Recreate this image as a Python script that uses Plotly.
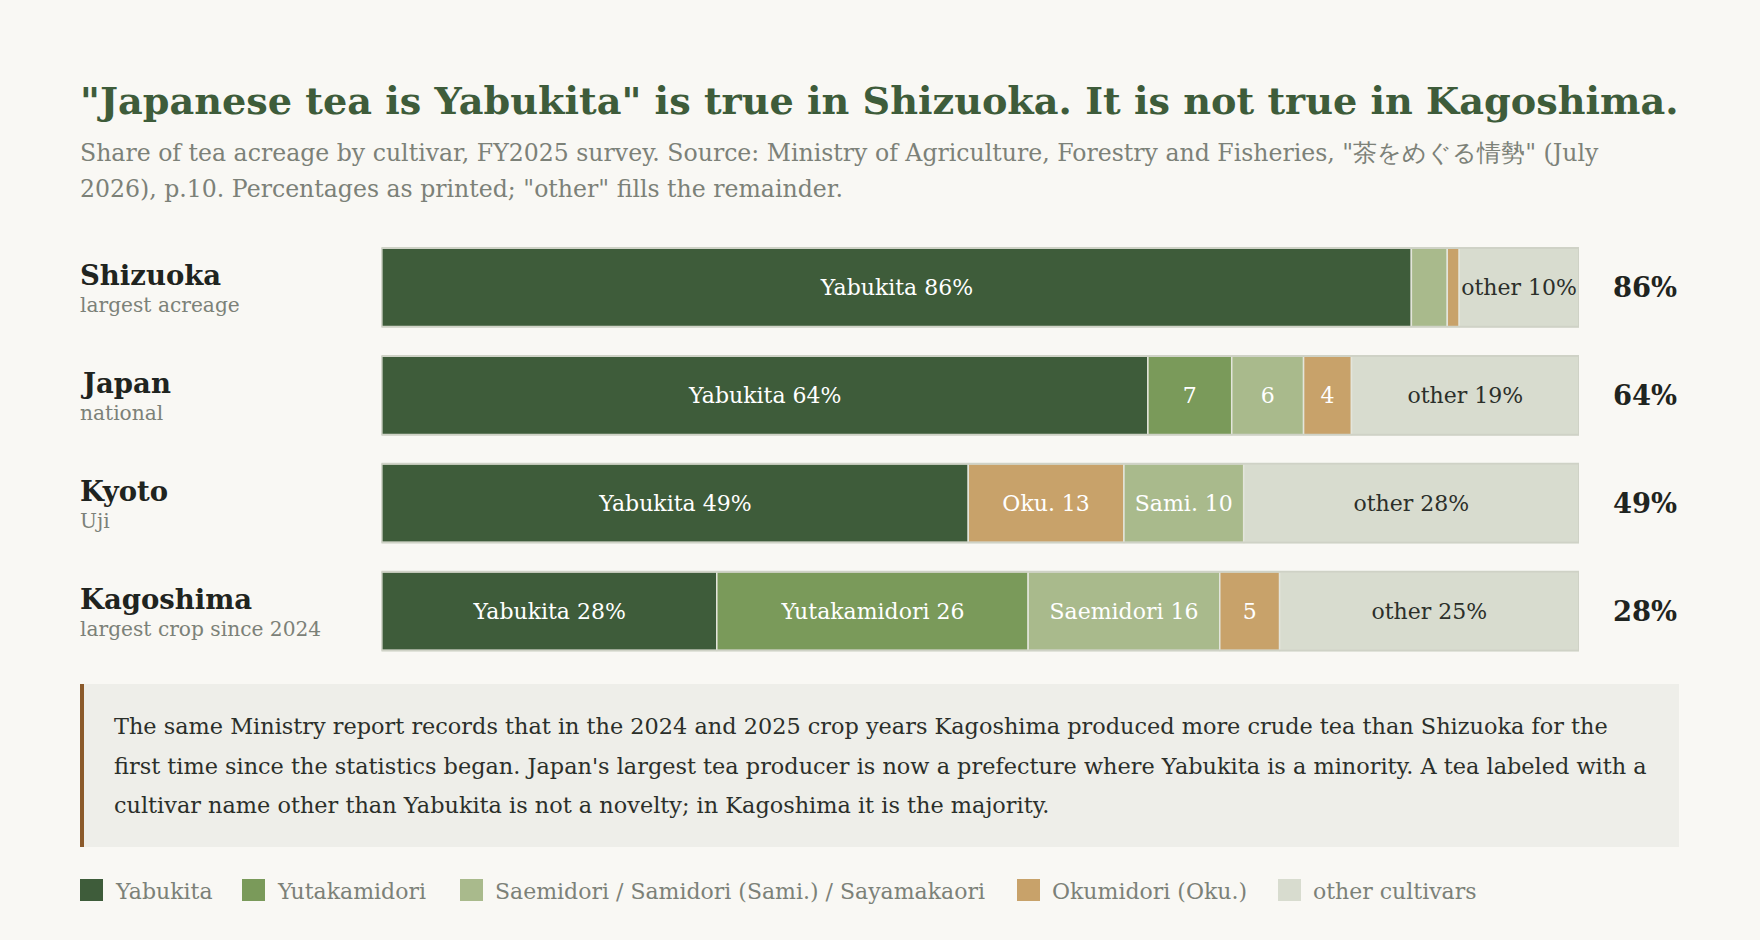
import plotly.graph_objects as go

# ---------------- data ----------------
regions = ["Shizuoka", "Japan", "Kyoto", "Kagoshima"]
region_notes = ["largest acreage", "national", "Uji", "largest crop since 2024"]
yabukita_share = [86, 64, 49, 28]

shizuoka_cultivars = ["Yabukita", "Saemidori", "Okumidori", "other"]
shizuoka_values = [86, 3, 1, 10]
shizuoka_labels = ["Yabukita 86%", "", "", "other 10%"]

japan_cultivars = ["Yabukita", "Yutakamidori", "Saemidori", "Okumidori", "other"]
japan_values = [64, 7, 6, 4, 19]
japan_labels = ["Yabukita 64%", "7", "6", "4", "other 19%"]

kyoto_cultivars = ["Yabukita", "Okumidori", "Saemidori", "other"]
kyoto_values = [49, 13, 10, 28]
kyoto_labels = ["Yabukita 49%", "Oku. 13", "Sami. 10", "other 28%"]

kagoshima_cultivars = ["Yabukita", "Yutakamidori", "Saemidori", "Okumidori", "other"]
kagoshima_values = [28, 26, 16, 5, 25]
kagoshima_labels = ["Yabukita 28%", "Yutakamidori 26", "Saemidori 16", "5", "other 25%"]

legend_keys = ["Yabukita", "Yutakamidori", "Saemidori", "Okumidori", "other"]
legend_names = ["Yabukita", "Yutakamidori", "Saemidori / Samidori (Sami.) / Sayamakaori",
                "Okumidori (Oku.)", "other cultivars"]

title_text = "\"Japanese tea is Yabukita\" is true in Shizuoka. It is not true in Kagoshima."
subtitle_lines = [
    "Share of tea acreage by cultivar, FY2025 survey. Source: Ministry of Agriculture, Forestry and Fisheries, \"茶をめぐる情勢\" (July",
    "2026), p.10. Percentages as printed; \"other\" fills the remainder.",
]
note_lines = [
    "The same Ministry report records that in the 2024 and 2025 crop years Kagoshima produced more crude tea than Shizuoka for the",
    "first time since the statistics began. Japan's largest tea producer is now a prefecture where Yabukita is a minority. A tea labeled with a",
    "cultivar name other than Yabukita is not a novelty; in Kagoshima it is the majority.",
]

# ---------------- style ----------------
W, H = 1760, 940
BG = "#f9f8f4"
COLORS = {
    "Yabukita": "#3e5c3a",
    "Yutakamidori": "#7a9a5a",
    "Saemidori": "#a9ba8c",
    "Okumidori": "#c8a26a",
    "other": "#d8dccf",
}
TEXT_COLORS = {k: "#ffffff" for k in COLORS}
TEXT_COLORS["other"] = "#2b2f2a"
SERIF = "DejaVu Serif"
DARK = "#1f2420"
GRAY = "#7c8178"
LABEL_SIZE = 22
LEFT = 78

def px(x):
    return x / W

def py(y):
    return 1 - y / H

fig = go.Figure()

rows = [
    (regions[0], shizuoka_cultivars, shizuoka_values, shizuoka_labels),
    (regions[1], japan_cultivars, japan_values, japan_labels),
    (regions[2], kyoto_cultivars, kyoto_values, kyoto_labels),
    (regions[3], kagoshima_cultivars, kagoshima_values, kagoshima_labels),
]

for region, cults, vals, labs in rows:
    base = 0
    for c, v, t in zip(cults, vals, labs):
        fig.add_trace(go.Bar(
            orientation="h", y=[region], x=[v], base=[base],
            marker=dict(color=COLORS[c], line=dict(color="#e3e5db", width=1.5)),
            text=[t], textposition="inside", insidetextanchor="middle",
            textangle=0, constraintext="none",
            textfont=dict(family=SERIF, size=LABEL_SIZE, color=TEXT_COLORS[c]),
            showlegend=False, hoverinfo="skip",
        ))
        base += v

# outer frame of each bar
fig.add_trace(go.Bar(
    orientation="h", y=regions, x=[100] * len(regions), base=[0] * len(regions),
    marker=dict(color="rgba(0,0,0,0)", line=dict(color="#cfd2c6", width=2)),
    showlegend=False, hoverinfo="skip",
))

annotations = []
# title / subtitle
annotations.append(dict(text=title_text, xref="paper", yref="paper", x=px(LEFT), y=py(101),
                        xanchor="left", yanchor="middle", showarrow=False,
                        font=dict(family=SERIF, size=38.2, color="#3e5c3a", weight="bold")))
for i, line in enumerate(subtitle_lines):
    annotations.append(dict(text=line, xref="paper", yref="paper", x=px(LEFT), y=py(153 + 36 * i),
                            xanchor="left", yanchor="middle", showarrow=False,
                            font=dict(family=SERIF, size=23.6, color=GRAY)))

# row labels and right values
for region, note, share in zip(regions, region_notes, yabukita_share):
    annotations.append(dict(text=region, xref="paper", yref="y", x=px(LEFT), y=region, yshift=12,
                            xanchor="left", yanchor="middle", showarrow=False,
                            font=dict(family=SERIF, size=27.5, color=DARK, weight="bold")))
    annotations.append(dict(text=note, xref="paper", yref="y", x=px(LEFT), y=region, yshift=-18,
                            xanchor="left", yanchor="middle", showarrow=False,
                            font=dict(family=SERIF, size=20.2, color=GRAY)))
    annotations.append(dict(text=f"{share}%", xref="paper", yref="y", x=px(1679), y=region,
                            xanchor="right", yanchor="middle", showarrow=False,
                            font=dict(family=SERIF, size=27.4, color=DARK, weight="bold")))

# note box
shapes = [
    dict(type="rect", xref="paper", yref="paper", x0=px(80), x1=px(1679), y0=py(847), y1=py(684),
         fillcolor="#eeeee9", line=dict(width=0), layer="below"),
    dict(type="rect", xref="paper", yref="paper", x0=px(80), x1=px(84), y0=py(847), y1=py(684),
         fillcolor="#8b5a2b", line=dict(width=0), layer="below"),
]
for i, line in enumerate(note_lines):
    annotations.append(dict(text=line, xref="paper", yref="paper", x=px(112), y=py(726 + 39.5 * i),
                            xanchor="left", yanchor="middle", showarrow=False,
                            font=dict(family=SERIF, size=22.4, color="#2b2f2a")))

# legend
legend_x = [80, 242, 460, 1017, 1278]
for k, name, lx in zip(legend_keys, legend_names, legend_x):
    shapes.append(dict(type="rect", xref="paper", yref="paper", x0=px(lx), x1=px(lx + 23),
                       y0=py(901), y1=py(879), fillcolor=COLORS[k], line=dict(width=0)))
    annotations.append(dict(text=name, xref="paper", yref="paper", x=px(lx + 33), y=py(891),
                            xanchor="left", yanchor="middle", showarrow=False,
                            font=dict(family=SERIF, size=22.0, color=GRAY)))

fig.update_layout(
    width=W, height=H,
    paper_bgcolor=BG, plot_bgcolor=BG,
    margin=dict(l=0, r=0, t=0, b=0),
    barmode="overlay", bargap=0.27,
    uniformtext=dict(minsize=LABEL_SIZE, mode="show"),
    xaxis=dict(range=[0, 100], domain=[px(381.5), px(1579)], visible=False, fixedrange=True),
    yaxis=dict(type="category", categoryorder="array", categoryarray=regions,
               range=[3.5, -0.5], domain=[py(665), py(233.5)], visible=False, fixedrange=True),
    annotations=annotations,
    shapes=shapes,
    showlegend=False,
)

fig.write_html(
    "out.html",
    config={"displayModeBar": False},
    post_script="document.body.style.margin='0';document.body.style.background='#f9f8f4';",
)
